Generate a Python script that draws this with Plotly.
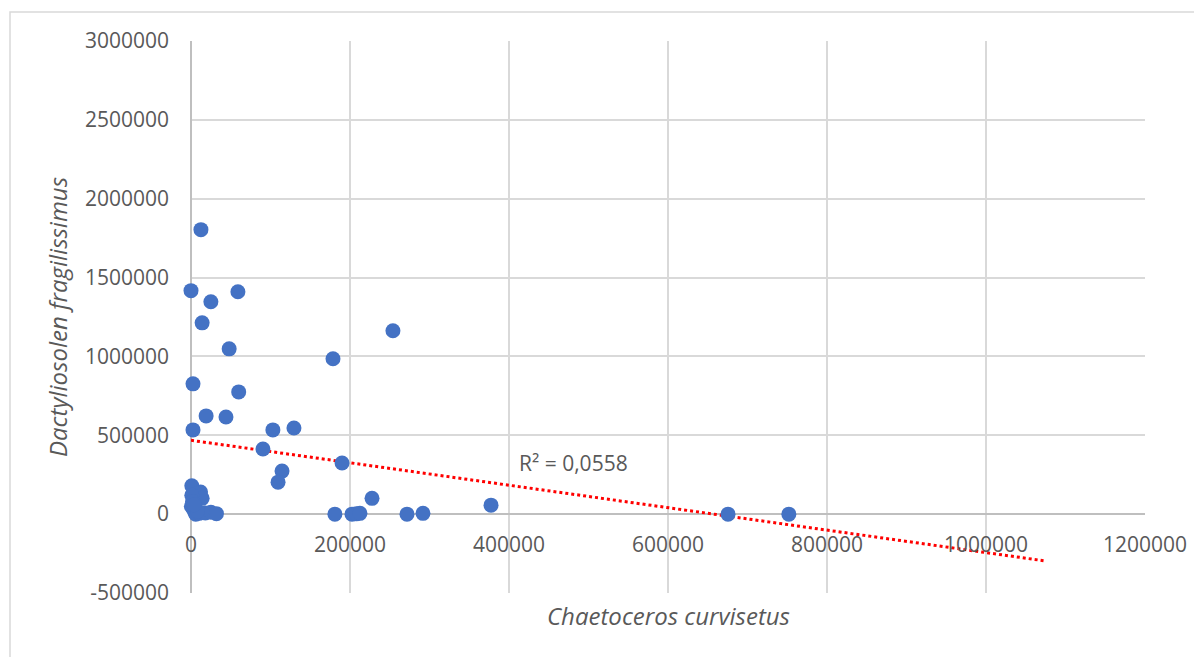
import numpy as np
import plotly.graph_objects as go

# Chaetoceros curvisetus (x) vs Dactyliosolen fragilissimus (y)
x_vals = [12500, 0, 25000, 59000, 14000, 48000, 2500, 60000, 19000, 44000,
          2500, 103000, 129500, 90500, 254000, 178600, 190000, 114500, 109500,
          181000, 202500, 208000, 212500, 227700, 271700, 291800, 377400,
          675500, 752000,
          1000, 12000, 14000, 1000, 2000, 500, 3000, 5000, 6000, 10000, 18000,
          25000, 32000, 8000, 4000]
y_vals = [1804000, 1417000, 1347000, 1410000, 1213000, 1048000, 826000, 775000,
          623000, 616000, 534000, 534000, 546000, 413000, 1163000, 985000,
          324000, 273000, 203000,
          0, 0, 2000, 5000, 100000, 0, 5000, 57000,
          0, 0,
          180000, 140000, 100000, 120000, 80000, 50000, 30000, 10000, 0, 5000,
          8000, 12000, 3000, 20000, 60000]

trend_x_end = 1075000
r2_label = "R² = 0,0558"
x_ticks = [0, 200000, 400000, 600000, 800000, 1000000, 1200000]
y_ticks = [-500000, 0, 500000, 1000000, 1500000, 2000000, 2500000, 3000000]

xa = np.array(x_vals, dtype=float)
ya = np.array(y_vals, dtype=float)
slope, intercept = np.polyfit(xa, ya, 1)
tx = np.array([0.0, trend_x_end])
ty = intercept + slope * tx

FONT = "Open Sans"
GRAY = "#595959"
GRID = "#d9d9d9"

W, H = 1194, 649
L, T, PW, PH = 183, 33, 954, 552
R = W - L - PW
B = H - T - PH

fig = go.Figure()
fig.add_trace(go.Scatter(x=tx, y=ty, mode="lines",
                         line=dict(color="#FF0000", width=3, dash="dot"),
                         hoverinfo="skip", showlegend=False))
fig.add_trace(go.Scatter(x=x_vals, y=y_vals, mode="markers",
                         marker=dict(color="#4472C4", size=15),
                         cliponaxis=False, showlegend=False))

ymin, ymax = -500000, 3000000
fig.update_layout(
    width=W, height=H,
    margin=dict(l=L, r=R, t=T, b=B),
    paper_bgcolor="white", plot_bgcolor="white",
    font=dict(family=FONT, size=21, color=GRAY),
    xaxis=dict(range=[0, 1200000], tickvals=x_ticks,
               ticktext=[str(v) for v in x_ticks],
               showgrid=True, gridcolor=GRID, gridwidth=1.5,
               zeroline=True, zerolinecolor="#bfbfbf", zerolinewidth=1.5,
               showline=False, ticks="", anchor="free",
               position=(0 - ymin) / (ymax - ymin),
               ticklabelstandoff=16,
               tickfont=dict(family=FONT, size=21, color=GRAY)),
    yaxis=dict(range=[ymin, ymax], tickvals=y_ticks,
               ticktext=[str(v) for v in y_ticks],
               showgrid=True, gridcolor=GRID, gridwidth=1.5,
               zeroline=True, zerolinecolor="#bfbfbf", zerolinewidth=1.5,
               showline=False, ticks="", ticklabelstandoff=21,
               tickfont=dict(family=FONT, size=21, color=GRAY),
               title=dict(text="<i>Dactyliosolen fragilissimus</i>",
                          font=dict(family=FONT, size=24, color=GRAY),
                          standoff=10)),
    annotations=[
        dict(x=0.5, y=-22 / PH, xref="paper", yref="paper",
             text="<i>Chaetoceros curvisetus</i>", showarrow=False,
             xanchor="center", yanchor="middle",
             font=dict(family=FONT, size=24, color=GRAY)),
        dict(x=410000, y=324000, xref="x", yref="y", text=r2_label,
             showarrow=False, xanchor="left", yanchor="middle",
             font=dict(family=FONT, size=21, color=GRAY)),
    ],
    shapes=[dict(type="rect", xref="paper", yref="paper",
                 x0=(2 - L) / PW, x1=(W + 10 - L) / PW,
                 y0=-(B + 20) / PH, y1=(PH + T - 4) / PH,
                 line=dict(color=GRID, width=1.5), layer="below")],
)

fig.write_html("out.html")
